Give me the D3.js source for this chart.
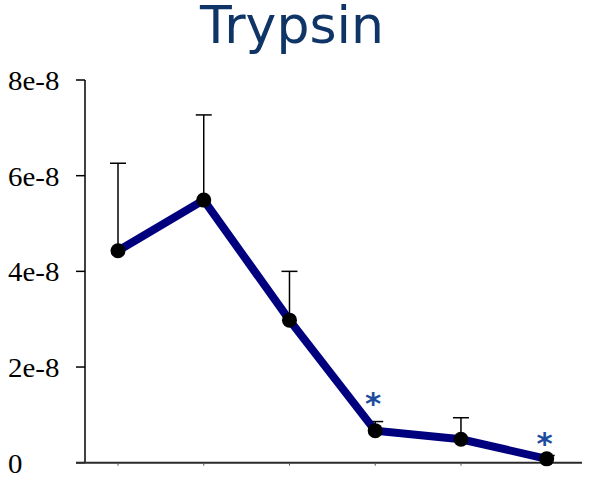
<!DOCTYPE html>
<html>
<head>
<meta charset="utf-8">
<script src="https://cdn.jsdelivr.net/npm/d3@7"></script>
<style>
  html, body { margin: 0; padding: 0; background: #fff; }
  svg { display: block; }
  .ylabel { font-family: "Liberation Serif", "Times New Roman", serif; }
  .title, .star { font-family: "DejaVu Sans", Verdana, sans-serif; }
</style>
</head>
<body>
<div id="chart"></div>
<script>
// Trypsin activity across six time points (mean with upper error bar)
const categories  = ["1", "2", "3", "4", "5", "6"];
const means       = [4.43e-8, 5.49e-8, 2.98e-8, 0.67e-8, 0.49e-8, 0.08e-8];
const errTops     = [6.26e-8, 7.27e-8, 4.00e-8, 0.86e-8, 0.94e-8, 0.15e-8];
// significance markers: category and the value level where the star sits
const starCats    = ["4", "6"];
const starLevels  = [1.31e-8, 0.475e-8];
const yTicks      = [0, 2e-8, 4e-8, 6e-8, 8e-8];
const yTickLabels = ["0", "2e-8", "4e-8", "6e-8", "8e-8"];
const title = "Trypsin";

const W = 593, H = 484;
const svg = d3.select("#chart").append("svg")
  .attr("width", W).attr("height", H);

const y = d3.scaleLinear().domain([0, 8e-8]).range([462.7, 80]);
const x = d3.scalePoint().domain(categories).range([118, 546.7]).padding(0);

// Title
svg.append("text")
  .attr("class", "title")
  .attr("x", 292).attr("y", 43)
  .attr("text-anchor", "middle")
  .attr("font-size", 52)
  .attr("fill", "#0f3567")
  .text(title);

// Y axis
const axisX = 85;
svg.append("line")
  .attr("x1", axisX).attr("x2", axisX)
  .attr("y1", y(8e-8)).attr("y2", y(0))
  .attr("stroke", "#000").attr("stroke-width", 1.5);

svg.selectAll(".ytick").data(yTicks).enter().append("line")
  .attr("x1", 76).attr("x2", axisX)
  .attr("y1", d => y(d)).attr("y2", d => y(d))
  .attr("stroke", "#000").attr("stroke-width", 1.5);

svg.selectAll(".ylabel").data(yTicks).enter().append("text")
  .attr("class", "ylabel")
  .attr("transform", d => `translate(8,${y(d) + 10}) scale(1.07,1)`)
  .attr("font-size", 27)
  .attr("fill", "#000")
  .text((d, i) => yTickLabels[i]);

// X axis baseline with small category ticks
svg.append("line")
  .attr("x1", 76).attr("x2", 582)
  .attr("y1", y(0)).attr("y2", y(0))
  .attr("stroke", "#2a2a2a").attr("stroke-width", 2);

svg.selectAll(".xtick").data(categories).enter().append("line")
  .attr("x1", d => x(d)).attr("x2", d => x(d))
  .attr("y1", y(0)).attr("y2", y(0) + 3)
  .attr("stroke", "#555").attr("stroke-width", 1);

// Error bars (upper only)
const rows = categories.map((c, i) => ({ c, m: means[i], e: errTops[i] }));

svg.selectAll(".err").data(rows).enter().append("line")
  .attr("x1", d => x(d.c)).attr("x2", d => x(d.c))
  .attr("y1", d => y(d.m)).attr("y2", d => y(d.e))
  .attr("stroke", "#000").attr("stroke-width", 1.5);

svg.selectAll(".cap").data(rows).enter().append("line")
  .attr("x1", d => x(d.c) - 8).attr("x2", d => x(d.c) + 8)
  .attr("y1", d => y(d.e)).attr("y2", d => y(d.e))
  .attr("stroke", "#000").attr("stroke-width", 1.5);

// Mean line
const line = d3.line().x(d => x(d.c)).y(d => y(d.m));
svg.append("path")
  .datum(rows)
  .attr("d", line)
  .attr("fill", "none")
  .attr("stroke", "#00007f")
  .attr("stroke-width", 8)
  .attr("stroke-linejoin", "miter");

// Markers
svg.selectAll(".pt").data(rows).enter().append("circle")
  .attr("cx", d => x(d.c)).attr("cy", d => y(d.m))
  .attr("r", 7.5)
  .attr("fill", "#000");

// Significance stars (glyph centred vertically on the given level)
const stars = starCats.map((c, i) => ({ c, v: starLevels[i] }));
svg.selectAll(".star").data(stars).enter().append("text")
  .attr("class", "star")
  .attr("x", d => x(d.c) - 2)
  .attr("y", d => y(d.v) + 14)
  .attr("text-anchor", "middle")
  .attr("font-size", 31)
  .attr("font-weight", "bold")
  .attr("fill", "#1d4c9f")
  .text("*");
</script>
</body>
</html>
